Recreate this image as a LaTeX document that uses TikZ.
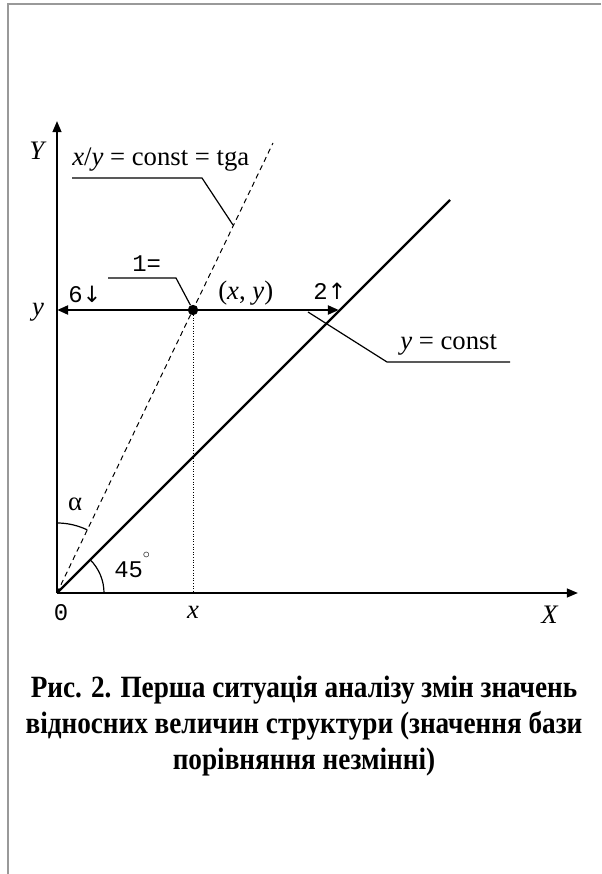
\documentclass[tikz,border=0pt]{standalone}
\usepackage{fontspec}
\setmainfont{Liberation Serif}
\setmonofont{Liberation Mono}
\newfontfamily\capfont[FakeStretch=0.88]{Liberation Serif}
\newfontfamily\arrowfont{DejaVu Sans}
\usetikzlibrary{arrows.meta,positioning}

\begin{document}
\begin{tikzpicture}[x=0.25mm, y=0.25mm, >={Triangle[length=2.8mm,width=2.2mm]}]

\tikzset{
  axis/.style={->, line width=0.5mm},
  shiftline/.style={->, line width=0.7mm},
  diag/.style={line width=0.6mm},
  ray/.style={line width=0.25mm, dash pattern=on 1.3mm off 1mm},
  proj/.style={line width=0.2mm, dash pattern=on 0.25mm off 0.4mm},
  leader/.style={line width=0.3mm},
  angarc/.style={line width=0.3mm},
  lbl/.style={font=\fontsize{19}{21}\selectfont, inner sep=0pt},
  mono/.style={font=\fontsize{17}{19}\selectfont\ttfamily, inner sep=0pt},
  frameline/.style={draw=gray!80, line width=0.4mm}
}

\useasboundingbox (-57,-281) rectangle (544,593);

% page frame
\draw[frameline] (544,589) -- (-49,589) -- (-49,-281);

% ==========================
% Axes and lines
% ==========================
\coordinate (O) at (0,0);
\coordinate (ytip) at (0,472);
\coordinate (xtip) at (521,0);
\coordinate (diagend) at (393,393);
\coordinate (rayend) at (216,450);
\coordinate (L) at (0,283);
\coordinate (R) at (282,283);
\coordinate (F) at (136,0);

\draw[axis] (O) -- (ytip);
\draw[axis] (O) -- (xtip);
\draw[diag] (O) -- (diagend);
\draw[ray] (O) -- (rayend);

\node[circle, fill, inner sep=0pt, minimum size=2.6mm] (P) at (136,283) {};
\draw[shiftline] (P.center) -- (L);
\draw[shiftline] (P.center) -- (R);
\draw[proj] (P.center) -- (F);

% angles
\draw[angarc] (0,70) arc[start angle=90, end angle=64.4, radius=70];
\draw[angarc] (47,0) arc[start angle=0, end angle=45, radius=47];

% ==========================
% Labels
% ==========================
\node[lbl, anchor=base] (Ylab) at (-19,433) {\textit{Y}};
\node[lbl, anchor=base] (ylab) at (-19,277) {\textit{y}};
\node[mono, anchor=base] (zero) at (4,-27) {0};
\node[lbl, anchor=base] (xlab) at (136,-25) {\textit{x}};
\node[lbl, anchor=base] (Xlab) at (493,-30) {\textit{X}};
\node[lbl, font=\fontsize{19}{21}\selectfont, anchor=base] (alab) at (18,83) {α};
\node[mono, anchor=base west] (deg) at (57,16)
  {45\raisebox{1.5ex}{\fontsize{10}{10}\selectfont$\circ$}};

\node[lbl, anchor=base west] (raylab) at (15,427) {\textit{x}/\textit{y} = const = tga};
\node[mono, anchor=base west] (one) at (75,321) {1=};
\node[mono, anchor=base west] (down) at (11,290) {6{\arrowfont\fontsize{16}{18}\selectfont ↓}};
\node[lbl, anchor=base west] (xy) at (161,293) {(\textit{x}, \textit{y})};
\node[mono, anchor=base west] (up) at (256,293) {2{\arrowfont\fontsize{16}{18}\selectfont ↑}};
\node[lbl, anchor=base west] (constlab) at (343,243) {\textit{y} = const};

% leaders
\coordinate (k1) at (15,415);
\coordinate (k2) at (145,415);
\coordinate (k3) at (176,368);
\draw[leader] (k1) -- (k2) -- (k3);

\coordinate (m1) at (51,315);
\coordinate (m2) at (119,315);
\draw[leader] (m1) -- (m2) -- (P);

\coordinate (n1) at (251,281);
\coordinate (n2) at (330,231);
\coordinate (n3) at (453,231);
\draw[leader] (n1) -- (n2) -- (n3);

% ==========================
% Caption
% ==========================
\node[font=\capfont\bfseries\fontsize{22}{25.5}\selectfont, align=center, inner sep=0pt, anchor=north] (caption) at (247,-83)
  {Рис. 2. Перша ситуація аналізу змін значень\\відносних величин структури (значення бази\\порівняння незмінні)};

\end{tikzpicture}
\end{document}
